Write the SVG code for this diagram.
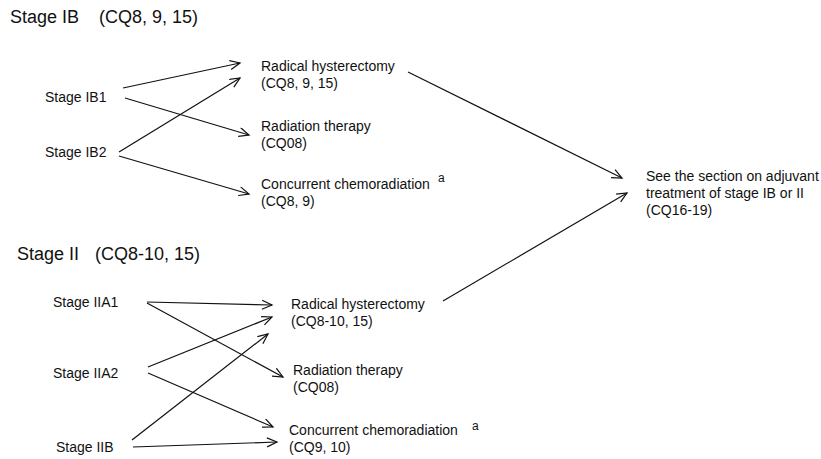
<svg xmlns="http://www.w3.org/2000/svg" width="821" height="459" viewBox="0 0 821 459">
<style>
text{font-family:"Liberation Sans",Arial,sans-serif;fill:#111}
.t{font-size:18px}
.n{font-size:14px}
.s{font-size:12px}
.c line{stroke:#111;stroke-width:1.2;marker-end:url(#ah)}
</style>
<defs>
<marker id="ah" markerUnits="userSpaceOnUse" markerWidth="14" markerHeight="12" refX="11" refY="5" orient="auto">
<path d="M1,0.5 L11,5 L1,9.5" fill="none" stroke="#111" stroke-width="1.2"/>
</marker>
</defs>
<rect width="821" height="459" fill="#fff"/>
<g id="title-ib"><text class="t" x="10" y="23">Stage IB</text><text class="t" x="99" y="23">(CQ8, 9, 15)</text></g>
<g id="title-ii"><text class="t" x="17" y="260">Stage II</text><text class="t" x="95" y="260">(CQ8-10, 15)</text></g>
<g id="ib1"><text class="n" x="45" y="102">Stage IB1</text></g>
<g id="ib2"><text class="n" x="45" y="157">Stage IB2</text></g>
<g id="rh1"><text class="n" x="261" y="71">Radical hysterectomy</text><text class="n" x="261" y="88">(CQ8, 9, 15)</text></g>
<g id="rt1"><text class="n" x="261" y="131">Radiation therapy</text><text class="n" x="261" y="148">(CQ08)</text></g>
<g id="cc1"><text class="n" x="261" y="189">Concurrent chemoradiation</text><text class="s" x="438" y="182">a</text><text class="n" x="261" y="206">(CQ8, 9)</text></g>
<g id="see"><text class="n" x="646" y="181">See the section on adjuvant</text><text class="n" x="646" y="198">treatment of stage IB or II</text><text class="n" x="646" y="215">(CQ16-19)</text></g>
<g id="iia1"><text class="n" x="53" y="307">Stage IIA1</text></g>
<g id="iia2"><text class="n" x="53" y="378">Stage IIA2</text></g>
<g id="iib"><text class="n" x="56" y="452">Stage IIB</text></g>
<g id="rh2"><text class="n" x="291" y="309">Radical hysterectomy</text><text class="n" x="291" y="326">(CQ8-10, 15)</text></g>
<g id="rt2"><text class="n" x="293" y="375">Radiation therapy</text><text class="n" x="293" y="392">(CQ08)</text></g>
<g id="cc2"><text class="n" x="289" y="435">Concurrent chemoradiation</text><text class="s" x="472" y="430">a</text><text class="n" x="289" y="452">(CQ9, 10)</text></g>
<g id="connectors" class="c">
<line x1="123" y1="88" x2="240" y2="63"/>
<line x1="125" y1="98" x2="249" y2="135"/>
<line x1="119" y1="152" x2="240" y2="78"/>
<line x1="119" y1="156" x2="249" y2="194"/>
<line x1="408" y1="72" x2="622" y2="178"/>
<line x1="443" y1="301" x2="627" y2="193"/>
<line x1="147" y1="302" x2="272" y2="305"/>
<line x1="147" y1="303" x2="283" y2="377"/>
<line x1="148" y1="367" x2="272" y2="317"/>
<line x1="148" y1="373" x2="273" y2="427"/>
<line x1="132" y1="440" x2="268" y2="334"/>
<line x1="133" y1="447" x2="277" y2="442"/>
</g>
</svg>
